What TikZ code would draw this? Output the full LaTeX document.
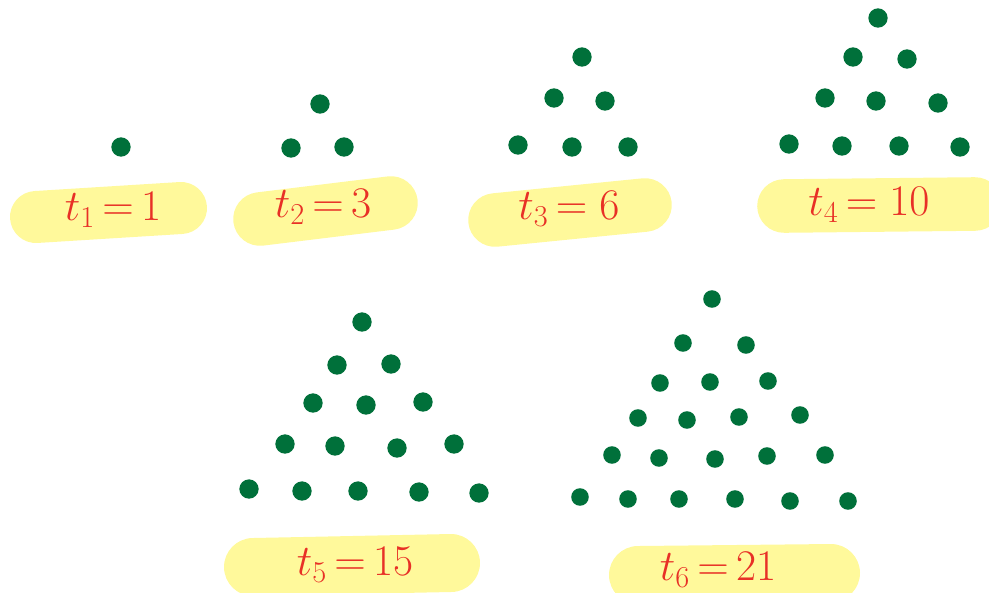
\documentclass[tikz,border=0pt]{standalone}
\definecolor{dotgreen}{RGB}{0,112,58}
\definecolor{hilite}{RGB}{255,249,155}
\definecolor{penred}{RGB}{232,48,38}
\tikzset{
  dot/.style={circle,fill=dotgreen,inner sep=0pt,minimum size=11pt},
  sdot/.style={dot,minimum size=10pt},
  blob/.style={hilite,line cap=round,line width=#1},
  lab/.style={text=penred,inner sep=0pt,font=\fontsize{26}{30}\selectfont}
}
\begin{document}
\begin{tikzpicture}[x=0.02cm,y=-0.02cm]
\useasboundingbox (0,0) rectangle (989,592);
\clip (0,0) rectangle (989,592);
% highlighter strokes
\draw[blob=29.6pt] (36,217) -- (181,208);
\draw[blob=30.5pt] (260,219) -- (391,203);
\draw[blob=30.5pt] (495,220) -- (645,205);
\draw[blob=30.5pt] (784,206) -- (975,204);
\draw[blob=33pt] (253,567) -- (451,563);
\draw[blob=33pt] (638,575) -- (831,573);
% labels
\node[lab] (l1) at (113,210) {$t_1{\,=\,}1$};
\node[lab] (l2) at (323,207) {$t_2{\,=\,}3$};
\node[lab] (l3) at (569,209) {$t_3{\,=\;}6$};
\node[lab] (l4) at (869,205) {$t_4{\,=\;}10$};
\node[lab] (l5) at (355,565) {$t_5{\,=\,}15$};
\node[lab] (l6) at (718,570) {$t_6{\,=\,}21$};
% t1
\node[dot] (a1) at (121,147) {};
% t2
\node[dot] (b1) at (320,104) {};
\node[dot] (b2) at (291,148) {};
\node[dot] (b3) at (344,147) {};
% t3
\node[dot] (c1) at (582,57) {};
\node[dot] (c2) at (554,98) {};
\node[dot] (c3) at (605,101) {};
\node[dot] (c4) at (518,145) {};
\node[dot] (c5) at (572,147) {};
\node[dot] (c6) at (628,147) {};
% t4
\node[dot] (d1) at (878,18) {};
\node[dot] (d2) at (853,57) {};
\node[dot] (d3) at (907,59) {};
\node[dot] (d4) at (825,98) {};
\node[dot] (d5) at (876,101) {};
\node[dot] (d6) at (938,103) {};
\node[dot] (d7) at (789,144) {};
\node[dot] (d8) at (842,146) {};
\node[dot] (d9) at (899,146) {};
\node[dot] (d10) at (960,147) {};
% t5
\node[dot] (e1) at (362,322) {};
\node[dot] (e2) at (337,365) {};
\node[dot] (e3) at (391,364) {};
\node[dot] (e4) at (313,403) {};
\node[dot] (e5) at (366,405) {};
\node[dot] (e6) at (423,402) {};
\node[dot] (e7) at (285,444) {};
\node[dot] (e8) at (335,446) {};
\node[dot] (e9) at (397,448) {};
\node[dot] (e10) at (454,444) {};
\node[dot] (e11) at (249,489) {};
\node[dot] (e12) at (302,491) {};
\node[dot] (e13) at (358,491) {};
\node[dot] (e14) at (419,492) {};
\node[dot] (e15) at (479,493) {};
% t6
\node[sdot] (f1) at (712,299) {};
\node[sdot] (f2) at (683,343) {};
\node[sdot] (f3) at (746,345) {};
\node[sdot] (f4) at (660,383) {};
\node[sdot] (f5) at (710,382) {};
\node[sdot] (f6) at (768,381) {};
\node[sdot] (f7) at (638,418) {};
\node[sdot] (f8) at (687,420) {};
\node[sdot] (f9) at (739,417) {};
\node[sdot] (f10) at (800,415) {};
\node[sdot] (f11) at (612,455) {};
\node[sdot] (f12) at (659,458) {};
\node[sdot] (f13) at (715,459) {};
\node[sdot] (f14) at (767,456) {};
\node[sdot] (f15) at (825,455) {};
\node[sdot] (f16) at (580,497) {};
\node[sdot] (f17) at (628,499) {};
\node[sdot] (f18) at (679,499) {};
\node[sdot] (f19) at (735,499) {};
\node[sdot] (f20) at (790,501) {};
\node[sdot] (f21) at (848,501) {};
\end{tikzpicture}
\end{document}
